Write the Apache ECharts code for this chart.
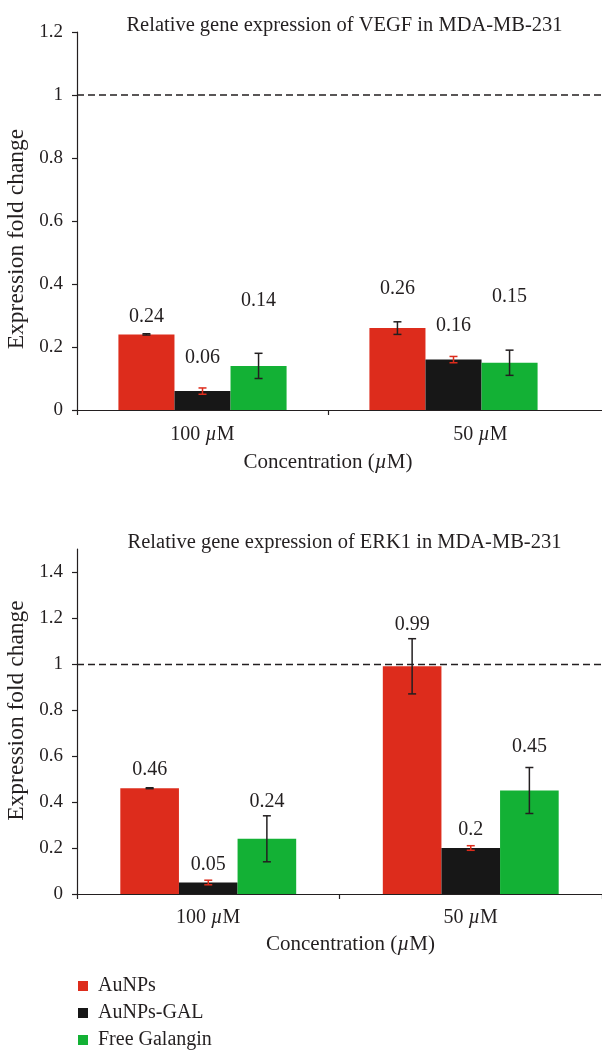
<!DOCTYPE html>
<html><head><meta charset="utf-8">
<script src="https://cdn.jsdelivr.net/npm/echarts@6/dist/echarts.min.js"></script>
<style>html,body{margin:0;padding:0;background:#fff}#c{width:602px;height:1051px}</style>
</head><body><div id="c"></div>
<script>
// ---------- data ----------
const categories = ['100 µM', '50 µM'];
const seriesNames = ['AuNPs', 'AuNPs-GAL', 'Free Galangin'];

const vegfAuNPs = [0.24, 0.26];
const vegfAuNPsGAL = [0.06, 0.16];
const vegfGalangin = [0.14, 0.15];
const vegfErrAuNPs = [0.002, 0.02];
const vegfErrAuNPsGAL = [0.01, 0.01];
const vegfErrGalangin = [0.04, 0.04];
// value-label anchor heights (data units)
const vegfLabelAtAuNPs = [0.295, 0.384];
const vegfLabelAtAuNPsGAL = [0.165, 0.267];
const vegfLabelAtGalangin = [0.346, 0.359];

const erk1AuNPs = [0.46, 0.99];
const erk1AuNPsGAL = [0.05, 0.2];
const erk1Galangin = [0.24, 0.45];
const erk1ErrAuNPs = [0.002, 0.12];
const erk1ErrAuNPsGAL = [0.01, 0.01];
const erk1ErrGalangin = [0.10, 0.10];
const erk1LabelAtAuNPs = [0.539, 1.17];
const erk1LabelAtAuNPsGAL = [0.126, 0.278];
const erk1LabelAtGalangin = [0.401, 0.64];

const vegfTicks = [0, 0.2, 0.4, 0.6, 0.8, 1, 1.2];
const erk1Ticks = [0, 0.2, 0.4, 0.6, 0.8, 1, 1.2, 1.4];
const vegfMax = 1.2;
const erk1Max = 1.5;
const referenceLevel = 1;

// ---------- styles / layout ----------
const FONT = 'Liberation Serif';
const INK = '#231F20';
const COLORS = ['#DD2C1C', '#171717', '#13B135'];
const ERR_COLORS = [INK, '#DD2C1C', INK];
const GAP = 0.33;
const W = 602;
const TOP = { left: 77, rightBars: 23, top: 32, bottom: 641 };
const BOT = { left: 77, right: 0, top: 549, bottom: 157 };
const topBarsWidth = W - TOP.left - TOP.rightBars;
const topFullWidth = W - TOP.left;
const topXMax = categories.length * topFullWidth / topBarsWidth;

function richCat(v) {
  const p = v.split('µ');
  return p[0] + '{i|µ}' + p[1];
}

function overlay(k, values, errs, labelAt, xi, yi) {
  return {
    type: 'custom', xAxisIndex: xi, yAxisIndex: yi, z: 10, silent: true,
    data: values.map((v, i) => [i, v, errs[i], labelAt[i]]),
    renderItem(params, api) {
      const cat = api.value(0), v = api.value(1), e = api.value(2), ly = api.value(3);
      const band = api.size([1, 0])[0];
      const bw = band * (1 - GAP) / 3;
      const cx = api.coord([cat, v])[0] + (k - 1) * bw;
      const yT = api.coord([cat, v + e])[1];
      const yB = api.coord([cat, v - e])[1];
      const yL = api.coord([cat, ly])[1];
      const st = { stroke: ERR_COLORS[k], lineWidth: 1.5 };
      const cap = 4;
      return { type: 'group', children: [
        { type: 'line', shape: { x1: cx, y1: yT, x2: cx, y2: yB }, style: st },
        { type: 'line', shape: { x1: cx - cap, y1: yT, x2: cx + cap, y2: yT }, style: st },
        { type: 'line', shape: { x1: cx - cap, y1: yB, x2: cx + cap, y2: yB }, style: st },
        { type: 'text', x: cx, y: yL, style: { text: String(v), fill: INK, font: '20px "' + FONT + '"', align: 'center', verticalAlign: 'middle' } }
      ] };
    }
  };
}

function bars(k, values, xi, yi, extra) {
  return Object.assign({
    name: seriesNames[k], type: 'bar', xAxisIndex: xi, yAxisIndex: yi,
    data: values, barGap: '0%', barCategoryGap: (GAP * 100) + '%',
    itemStyle: { color: COLORS[k] }, silent: true
  }, extra || {});
}

const axisLineStyle = { color: INK, width: 1.2 };
const dashStyle = { color: INK, width: 1.4, type: [7, 4] };
const labelStyle = { color: INK, fontFamily: FONT, fontSize: 19 };
const yNameStyle = { fontFamily: FONT, fontSize: 23.5, color: INK };

const option = {
  animation: false,
  textStyle: { fontFamily: FONT, color: INK },
  title: [
    { text: 'Relative gene expression of VEGF in MDA-MB-231', left: TOP.left + topFullWidth / 2, textAlign: 'center', top: 10,
      textStyle: { fontFamily: FONT, fontWeight: 'normal', fontSize: 20.5, color: INK } },
    { text: 'Relative gene expression of ERK1 in MDA-MB-231', left: TOP.left + topFullWidth / 2, textAlign: 'center', top: 527,
      textStyle: { fontFamily: FONT, fontWeight: 'normal', fontSize: 20.5, color: INK } }
  ],
  legend: {
    data: seriesNames, orient: 'vertical', left: 78, top: 976, padding: 0,
    itemWidth: 10, itemHeight: 10, itemGap: 7, icon: 'rect',
    textStyle: { fontFamily: FONT, fontSize: 20, lineHeight: 20, color: INK, padding: [0, 0, 0, 5] }
  },
  grid: [
    { left: TOP.left, right: TOP.rightBars, top: TOP.top, bottom: TOP.bottom, outerBoundsMode: 'none', containLabel: false },
    { left: TOP.left, right: 0, top: TOP.top, bottom: TOP.bottom, outerBoundsMode: 'none', containLabel: false },
    { left: BOT.left, right: BOT.right, top: BOT.top, bottom: BOT.bottom, outerBoundsMode: 'none', containLabel: false }
  ],
  xAxis: [
    { gridIndex: 0, type: 'category', data: categories,
      axisLine: { show: false }, axisTick: { show: false },
      axisLabel: Object.assign({}, labelStyle, { fontSize: 20, margin: 15,
        formatter: (v, i) => (i === 1 ? '{sp| }' : '') + richCat(v),
        rich: { i: { fontStyle: 'italic', fontSize: 20 }, sp: { width: 54 } } }),
      name: 'Concentration ({i|µ}M)', nameLocation: 'middle', nameGap: 42,
      nameTextStyle: { fontFamily: FONT, fontSize: 21, color: INK, rich: { i: { fontStyle: 'italic', fontSize: 21 } } } },
    { gridIndex: 1, type: 'value', min: 0, max: topXMax,
      axisLine: { show: true, lineStyle: axisLineStyle },
      axisTick: { show: true, length: 5, lineStyle: axisLineStyle, customValues: [0, 1] },
      axisLabel: { show: false }, splitLine: { show: false } },
    { gridIndex: 2, type: 'category', data: categories,
      axisLine: { show: true, lineStyle: axisLineStyle },
      axisTick: { show: true, length: 5, lineStyle: axisLineStyle },
      axisLabel: Object.assign({}, labelStyle, { fontSize: 20, margin: 14,
        formatter: v => richCat(v), rich: { i: { fontStyle: 'italic', fontSize: 20 } } }),
      name: 'Concentration ({i|µ}M)', nameLocation: 'middle', nameGap: 40,
      nameTextStyle: { fontFamily: FONT, fontSize: 21, color: INK, padding: [0, 0, 0, 22], rich: { i: { fontStyle: 'italic', fontSize: 21 } } } }
  ],
  yAxis: [
    { gridIndex: 0, type: 'value', min: 0, max: vegfMax, show: false },
    { gridIndex: 1, type: 'value', min: 0, max: vegfMax, interval: 0.2,
      axisLine: { show: true, lineStyle: axisLineStyle },
      axisTick: { show: true, length: 5, lineStyle: axisLineStyle, customValues: vegfTicks },
      axisLabel: Object.assign({}, labelStyle, { margin: 14, customValues: vegfTicks }),
      splitLine: { show: false },
      name: 'Expression fold change', nameLocation: 'middle', nameGap: 44,
      nameTextStyle: Object.assign({}, yNameStyle, { padding: [0, 36, 0, 0] }) },
    { gridIndex: 2, type: 'value', min: 0, max: erk1Max, interval: 0.2,
      axisLine: { show: true, lineStyle: axisLineStyle },
      axisTick: { show: true, length: 5, lineStyle: axisLineStyle, customValues: erk1Ticks },
      axisLabel: Object.assign({}, labelStyle, { margin: 14, customValues: erk1Ticks }),
      splitLine: { show: false },
      name: 'Expression fold change', nameLocation: 'middle', nameGap: 44,
      nameTextStyle: Object.assign({}, yNameStyle, { padding: [0, 0, 0, 22] }) }
  ],
  series: [
    bars(0, vegfAuNPs, 0, 0), bars(1, vegfAuNPsGAL, 0, 0), bars(2, vegfGalangin, 0, 0),
    overlay(0, vegfAuNPs, vegfErrAuNPs, vegfLabelAtAuNPs, 0, 0),
    overlay(1, vegfAuNPsGAL, vegfErrAuNPsGAL, vegfLabelAtAuNPsGAL, 0, 0),
    overlay(2, vegfGalangin, vegfErrGalangin, vegfLabelAtGalangin, 0, 0),
    { type: 'line', xAxisIndex: 1, yAxisIndex: 1, silent: true, symbol: 'none', z: 1,
      data: [[0, referenceLevel], [topXMax, referenceLevel]],
      lineStyle: dashStyle },
    bars(0, erk1AuNPs, 2, 2, { markLine: { silent: true, symbol: 'none', label: { show: false },
      lineStyle: dashStyle, data: [{ yAxis: referenceLevel }] } }),
    bars(1, erk1AuNPsGAL, 2, 2), bars(2, erk1Galangin, 2, 2),
    overlay(0, erk1AuNPs, erk1ErrAuNPs, erk1LabelAtAuNPs, 2, 2),
    overlay(1, erk1AuNPsGAL, erk1ErrAuNPsGAL, erk1LabelAtAuNPsGAL, 2, 2),
    overlay(2, erk1Galangin, erk1ErrGalangin, erk1LabelAtGalangin, 2, 2)
  ]
};
const chart = echarts.init(document.getElementById('c'), null, { renderer: 'canvas' });
chart.setOption(option);
</script>
</body></html>
